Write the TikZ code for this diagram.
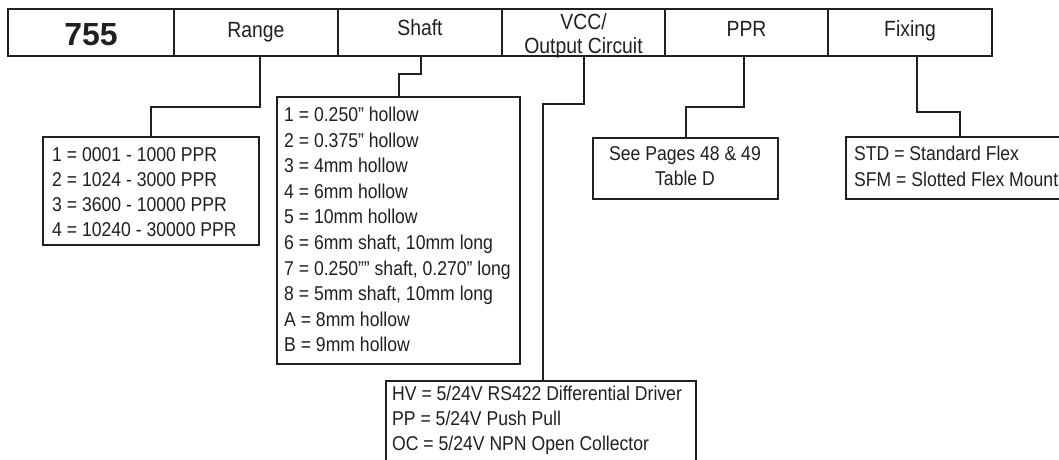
\documentclass[tikz,border=0pt]{standalone}
\usepackage{fontspec}
\setmainfont{Liberation Sans}[FakeStretch=0.88]
\newfontfamily\plainsans{Liberation Sans}
\definecolor{ink}{HTML}{231F20}
\tikzset{
  hbox/.style={draw=ink, line width=2pt, rectangle, inner sep=0pt, minimum height=47pt},
  bbox/.style={draw=ink, line width=2pt, rectangle, inner sep=0pt},
  htext/.style={anchor=base, inner sep=0pt, text=ink, font=\fontsize{22}{24}\selectfont},
  btext/.style={anchor=base west, inner sep=0pt, text=ink, font=\fontsize{20}{25}\selectfont},
  conn/.style={draw=ink, line width=2pt, line join=miter}
}
\begin{document}
\begin{tikzpicture}[x=1pt, y=-1pt]
\useasboundingbox (0,0) rectangle (1059,459);
\clip (0,0) rectangle (1059,459);
\fill[white] (0,0) rectangle (1059,459);

% header boxes
\node[hbox, minimum width=166pt] (h755)   at (91,32.5) {};
\node[hbox, minimum width=164pt] (hrange) at (256,32.5) {};
\node[hbox, minimum width=164pt] (hshaft) at (420,32.5) {};
\node[hbox, minimum width=163pt] (hvcc)   at (583.5,32.5) {};
\node[hbox, minimum width=163pt] (hppr)   at (746.5,32.5) {};
\node[hbox, minimum width=164pt] (hfix)   at (910,32.5) {};

% header texts
\node[htext, font=\plainsans\fontsize{32}{32}\selectfont\bfseries] (t755) at (91,45) {755};
\node[htext] (trangeh) at (256,37.4) {Range};
\node[htext] (tshafth) at (420,35) {Shaft};
\node[htext] (tvcch) at (583.5,29) {\begin{tabular}[t]{@{}c@{}}VCC/\\Output Circuit\end{tabular}};
\node[htext] (tpprh) at (746.5,36.5) {PPR};
\node[htext] (tfixh) at (910,36.5) {Fixing};

% body boxes
\node[bbox, minimum width=216pt, minimum height=108pt] (brange) at (151,191) {};
\node[bbox, minimum width=243pt, minimum height=267pt] (bshaft) at (398.5,230.5) {};
\node[bbox, minimum width=310pt, minimum height=99pt]  (bvcc)   at (541,430.5) {};
\node[bbox, minimum width=185pt, minimum height=61pt]  (bppr)   at (685.5,168.5) {};
\node[bbox, minimum width=228pt, minimum height=62pt]  (bfix)   at (960,168) {};

% body texts
\node[btext] (trange) at (52,161) {\begin{tabular}[t]{@{}l@{}}
1 = 0001 - 1000 PPR\\
2 = 1024 - 3000 PPR\\
3 = 3600 - 10000 PPR\\
4 = 10240 - 30000 PPR\end{tabular}};

\node[btext, font=\fontsize{20}{25.55}\selectfont] (tshaft) at (284,121.7) {\begin{tabular}[t]{@{}l@{}}
1 = 0.250” hollow\\
2 = 0.375” hollow\\
3 = 4mm hollow\\
4 = 6mm hollow\\
5 = 10mm hollow\\
6 = 6mm shaft, 10mm long\\
7 = 0.250”” shaft, 0.270” long\\
8 = 5mm shaft, 10mm long\\
A = 8mm hollow\\
B = 9mm hollow\end{tabular}};

\node[btext] (tvcc) at (392,400.7) {\begin{tabular}[t]{@{}l@{}}
HV = 5/24V RS422 Differential Driver\\
PP = 5/24V Push Pull\\
OC = 5/24V NPN Open Collector\end{tabular}};

\node[btext, anchor=base] (tppr) at (685,160) {\begin{tabular}[t]{@{}c@{}}
See Pages 48 \& 49\\
Table D\end{tabular}};

\node[btext, font=\fontsize{20}{26}\selectfont] (tfix) at (854,160) {\begin{tabular}[t]{@{}l@{}}
STD = Standard Flex\\
SFM = Slotted Flex Mount\end{tabular}};

% connectors
\coordinate (r1) at (260,107);
\draw[conn] (hrange.south -| r1) -- (r1) -| (brange.north);
\coordinate (s1) at (421,74);
\draw[conn] (hshaft.south -| s1) -- (s1) -| (bshaft.north);
\coordinate (v1) at (584,104);
\draw[conn] (hvcc.south -| v1) -- (v1) -| ([xshift=2pt]bvcc.north);
\coordinate (p1) at (744,107);
\draw[conn] (hppr.south -| p1) -- (p1) -| (bppr.north);
\coordinate (f1) at (917,112);
\draw[conn] (hfix.south -| f1) -- (f1) -| (bfix.north);
\end{tikzpicture}
\end{document}
